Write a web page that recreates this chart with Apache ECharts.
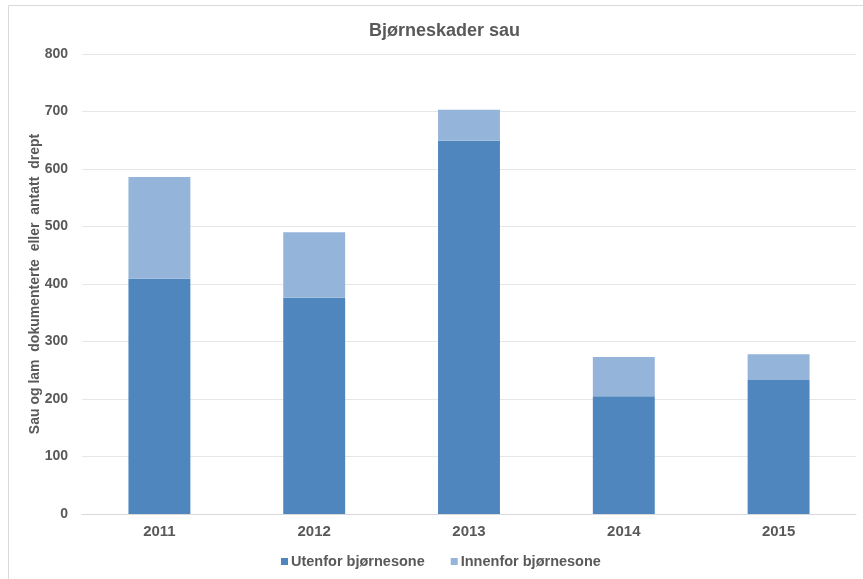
<!DOCTYPE html>
<html>
<head>
<meta charset="utf-8">
<style>
  html, body { margin: 0; padding: 0; background: #fff; }
  #chart { width: 863px; height: 579px; }
</style>
<script src="https://cdn.jsdelivr.net/npm/echarts@6/dist/echarts.min.js"></script>
</head>
<body>
<div id="chart"></div>
<script>
// Sheep and lambs killed by bears, split by management zone
const years = ['2011', '2012', '2013', '2014', '2015'];
const utenfor = [409, 376, 649, 205, 233];
const innenfor = [177, 114, 54, 68, 45];
const yTicks = [0, 100, 200, 300, 400, 500, 600, 700, 800];

const textColor = '#595959';
const font = 'Liberation Sans, Arial, sans-serif';

const chart = echarts.init(document.getElementById('chart'), null, { renderer: 'canvas' });

chart.setOption({
  backgroundColor: '#ffffff',
  animation: false,
  graphic: [{
    type: 'rect',
    shape: { x: 8.5, y: 5.5, width: 870, height: 580 },
    style: { fill: 'none', stroke: '#d9d9d9', lineWidth: 1 },
    silent: true
  }],
  title: {
    text: 'Bjørneskader sau',
    left: 364,
    top: 17,
    textStyle: { color: textColor, fontFamily: font, fontSize: 18, fontWeight: 'bold' }
  },
  legend: {
    bottom: 5,
    left: 276,
    itemWidth: 7,
    itemHeight: 7,
    itemGap: 26,
    icon: 'rect',
    textStyle: { color: textColor, fontFamily: font, fontSize: 14.5, fontWeight: 'bold', padding: [0, 0, 0, -2] },
    data: ['Utenfor bjørnesone', 'Innenfor bjørnesone']
  },
  grid: { left: 82, right: 7, top: 54, bottom: 65 },
  xAxis: {
    type: 'category',
    data: years,
    axisTick: { show: false },
    axisLine: { lineStyle: { color: '#d9d9d9' } },
    axisLabel: { color: textColor, fontFamily: font, fontSize: 15, fontWeight: 'bold', margin: 10 }
  },
  yAxis: {
    type: 'value',
    min: yTicks[0],
    max: yTicks[yTicks.length - 1],
    interval: yTicks[1] - yTicks[0],
    name: 'Sau og lam  dokumenterte  eller  antatt  drept',
    nameLocation: 'middle',
    nameGap: 40,
    nameMoveOverlap: false,
    nameRotate: 90,
    nameTextStyle: { color: textColor, fontFamily: font, fontSize: 14, fontWeight: 'bold' },
    axisLine: { show: false },
    axisTick: { show: false },
    splitLine: { lineStyle: { color: '#e6e6e6' } },
    axisLabel: { color: textColor, fontFamily: font, fontSize: 14, fontWeight: 'bold', margin: 14 }
  },
  series: [
    {
      name: 'Utenfor bjørnesone',
      type: 'bar',
      stack: 'total',
      barWidth: '40%',
      data: utenfor,
      itemStyle: { color: '#4f86bd' }
    },
    {
      name: 'Innenfor bjørnesone',
      type: 'bar',
      stack: 'total',
      barWidth: '40%',
      data: innenfor,
      itemStyle: { color: '#95b4da' }
    }
  ]
});
</script>
</body>
</html>
